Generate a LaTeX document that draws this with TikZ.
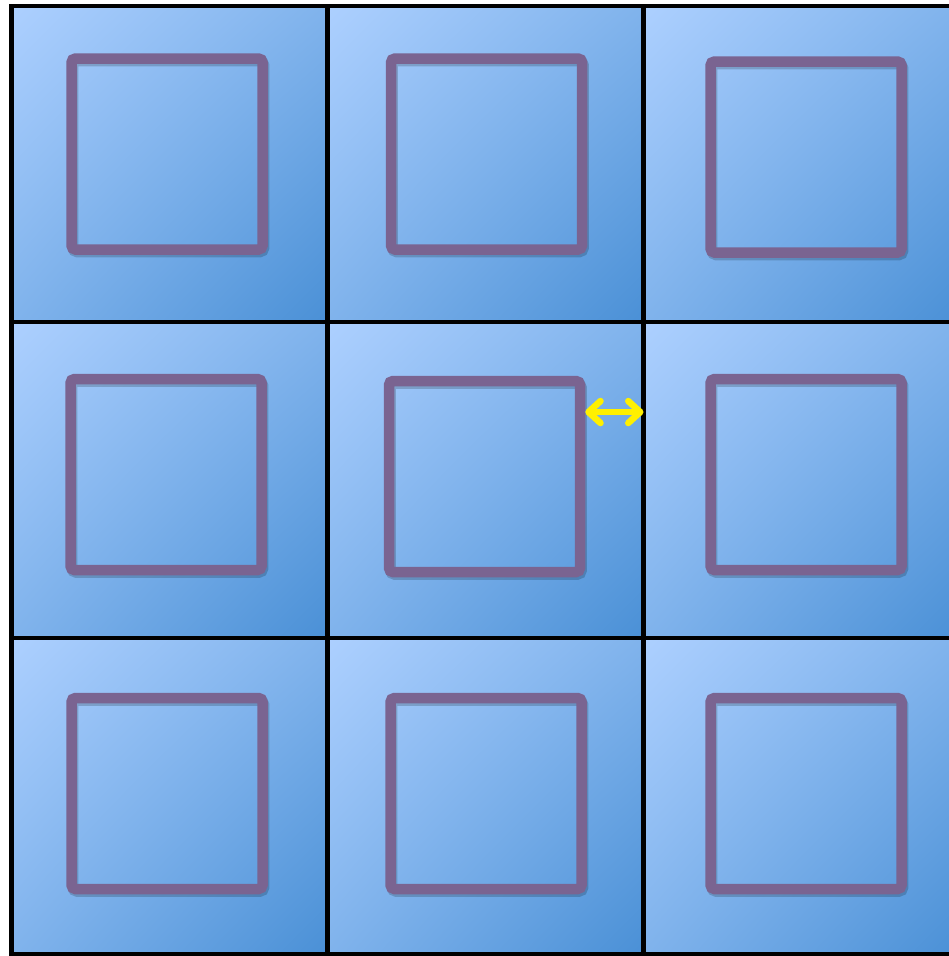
\documentclass[tikz,border=0pt]{standalone}
\usetikzlibrary{positioning,arrows.meta,calc,shadings}
\definecolor{gdLight}{HTML}{ADD0FF}
\definecolor{gdMid}{HTML}{80B3EC}
\definecolor{gdDark}{HTML}{4A90D6}
\definecolor{gdPurple}{HTML}{7A6491}
\definecolor{gdYellow}{HTML}{FFF000}
\tikzset{
  gd-cell/.style={rectangle, minimum size=316pt, inner sep=0pt, outer sep=0pt,
    upper left=gdLight, upper right=gdMid, lower left=gdMid,
    lower right=gdDark},
  gd-line/.style={draw=black, line width=4.5pt},
  gd-sq/.style={rectangle, draw=gdPurple, line width=10.5pt,
    rounded corners=4pt, minimum size=191pt, inner sep=0pt},
  gd-shadow/.style={gd-sq, draw=black, opacity=0.18},
  gd-gap/.style={{Straight Barb[length=12pt,width=22pt,line cap=round,
    line join=round]}-{Straight Barb[length=12pt,width=22pt,line cap=round,
    line join=round]}, draw=gdYellow, line width=6.5pt, line cap=round}
}
\begin{document}
\begin{tikzpicture}[x=1pt, y=-1pt]
\useasboundingbox (0,0) rectangle (949,956);

% cells
\foreach \r/\y in {1/164,2/480,3/796}
  \foreach \c/\x in {1/169.5,2/485.5,3/801.5}
    \node[gd-cell] (cell\r\c) at (\x,\y) {};

\foreach \n in {11,12,13,21,22,23,31,32,33}
  \draw[gd-line] (cell\n.north west) rectangle (cell\n.south east);

% squares
\foreach \n/\x/\y in {11/167/154, 12/486.5/154, 13/806/157,
    21/166/474.5, 22/484.5/476.5, 23/806/474.5,
    31/167/793.5, 32/486/793.5, 33/806/793.5} {
  \node[gd-shadow] (sqs\n) at (\x+1.5,\y+2.5) {};
  \node[gd-sq] (sq\n) at (\x,\y) {};
}

% gap
\coordinate (gapA) at ($(sq22.north east)!0.18!(sq22.south east)$);
\draw[gd-gap] (gapA) -- (gapA -| cell22.east);
\end{tikzpicture}
\end{document}
